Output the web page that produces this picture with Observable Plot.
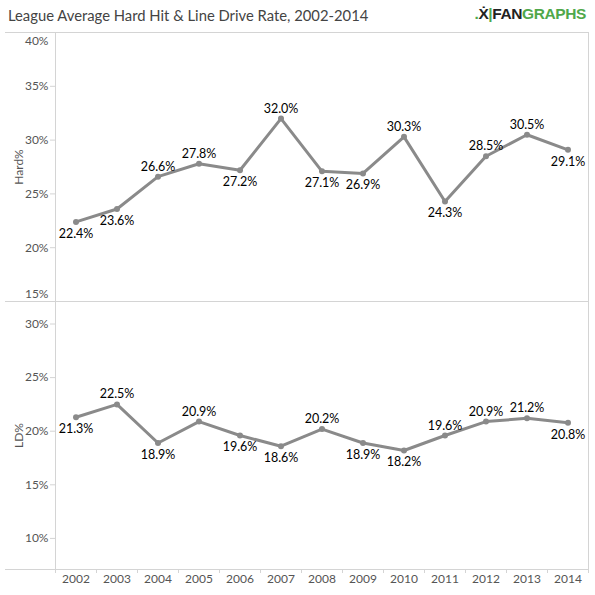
<!DOCTYPE html>
<html>
<head>
<meta charset="utf-8">
<script src="https://cdn.jsdelivr.net/npm/d3@7"></script>
<script src="https://cdn.jsdelivr.net/npm/@observablehq/plot@0.6"></script>
<style>
  html, body { margin: 0; padding: 0; background: #fff; }
  #chart { position: relative; width: 595px; height: 595px; font-family: Lato, "Open Sans", sans-serif; overflow: hidden; }
  #title { position: absolute; left: 8px; top: 6px; font-size: 14.8px; color: #444; white-space: nowrap; }
  #logo { position: absolute; right: 9px; top: 5px; font-family: "Liberation Sans", Arial, sans-serif; font-weight: bold; font-size: 15.5px; letter-spacing: -0.4px; white-space: nowrap; }
  #logo .g { color: #4fa84a; }
  #logo .k { color: #222; }
  .hline { position: absolute; height: 0; border-top: 1px solid #d4d4d4; }
  .vline { position: absolute; width: 0; border-left: 1px solid #d4d4d4; }
  .panel { position: absolute; left: 0; }
</style>
</head>
<body>
<div id="chart">
  <div id="title">League Average Hard Hit &amp; Line Drive Rate, 2002-2014</div>
  <div id="logo"><span class="g">.</span><span class="k">Ẋ</span><span class="g">|</span><span class="k">FAN</span><span class="g">GRAPHS</span></div>
  <div class="panel" id="top" style="top:32px"></div>
  <div class="panel" id="bottom" style="top:301px"></div>
  <div class="hline" style="left:5px; width:583px; top:32px"></div>
  <div class="hline" style="left:5px; width:583px; top:301px"></div>
  <div class="hline" style="left:5px; width:583px; top:569px"></div>
  <div class="vline" style="left:588px; top:32px; height:537px"></div>
</div>
<script>
const years = [2002, 2003, 2004, 2005, 2006, 2007, 2008, 2009, 2010, 2011, 2012, 2013, 2014];
const hardRate = [22.4, 23.6, 26.6, 27.8, 27.2, 32.0, 27.1, 26.9, 30.3, 24.3, 28.5, 30.5, 29.1];
const ldRate = [21.3, 22.5, 18.9, 20.9, 19.6, 18.6, 20.2, 18.9, 18.2, 19.6, 20.9, 21.2, 20.8];
const hardTicks = [15, 20, 25, 30, 35, 40];
const ldTicks = [10, 15, 20, 25, 30];

const lineColor = "#8a8a8a";
const axisColor = "#d4d4d4";
const tickText = "#555";
const pct = d => d + "%";

function rows(values) {
  return years.map((year, i) => {
    const prev = values[i - 1], next = values[i + 1];
    let ref;
    if (prev === undefined) ref = next;
    else if (next === undefined) ref = prev;
    else ref = (prev + next) / 2;
    return {year, value: values[i], above: values[i] >= ref};
  });
}

function panel({values, ticks, domain, label, height, marginBottom, xAxis}) {
  const data = rows(values);
  const interior = ticks.filter(t => t > domain[0] && t < domain[1]);
  const topEdge = ticks.filter(t => t === domain[1]);
  const bottomEdge = ticks.filter(t => t === domain[0]);
  const boundaries = years.map(y => y - 0.5).concat([years[years.length - 1] + 0.5]);
  const xDomain = [years[0] - 0.5, years[years.length - 1] + 0.5];
  const marks = [
    Plot.axisY(interior, {tickSize: 5, tickPadding: 2, tickFormat: pct, stroke: axisColor, fill: tickText,
      label, labelAnchor: "center", labelOffset: 41, labelArrow: "none"}),
    Plot.axisY(topEdge, {tickSize: 0, tickPadding: 7, tickFormat: pct, fill: tickText, dy: 8.5, label: null}),
    Plot.axisY(bottomEdge, {tickSize: 0, tickPadding: 7, tickFormat: pct, fill: tickText, dy: -7, label: null}),
    Plot.ruleX([xDomain[0]], {stroke: axisColor}),
    Plot.line(data, {x: "year", y: "value", stroke: lineColor, strokeWidth: 3}),
    Plot.dot(data, {x: "year", y: "value", r: 3, fill: lineColor}),
    Plot.text(data.filter(d => d.above), {x: "year", y: "value", text: d => d.value.toFixed(1) + "%",
      lineAnchor: "bottom", dy: -6, fill: "#000", fontSize: 12.5}),
    Plot.text(data.filter(d => !d.above), {x: "year", y: "value", text: d => d.value.toFixed(1) + "%",
      lineAnchor: "top", dy: 7, fill: "#000", fontSize: 12.5})
  ];
  if (xAxis) {
    marks.push(
      Plot.axisX(years, {tickSize: 0, tickPadding: 5, tickFormat: d => String(d), fill: tickText, label: null}),
      Plot.axisX(boundaries, {tickSize: 4, tickFormat: () => "", stroke: axisColor, label: null})
    );
  }
  return Plot.plot({
    width: 595,
    height,
    marginTop: 0,
    marginBottom,
    marginLeft: 55,
    marginRight: 7,
    style: {fontFamily: "Lato, 'Open Sans', sans-serif", fontSize: "12px", overflow: "visible", background: "transparent"},
    x: {type: "linear", domain: xDomain, axis: null},
    y: {domain, axis: null},
    marks
  });
}

const topSvg = panel({values: hardRate, ticks: hardTicks, domain: [15, 40], label: "Hard%", height: 269, marginBottom: 0, xAxis: false});
const botSvg = panel({values: ldRate, ticks: ldTicks, domain: [7.1, 32.1], label: "LD%", height: 294, marginBottom: 26, xAxis: true});
document.getElementById("top").appendChild(topSvg);
document.getElementById("bottom").appendChild(botSvg);
</script>
</body>
</html>
